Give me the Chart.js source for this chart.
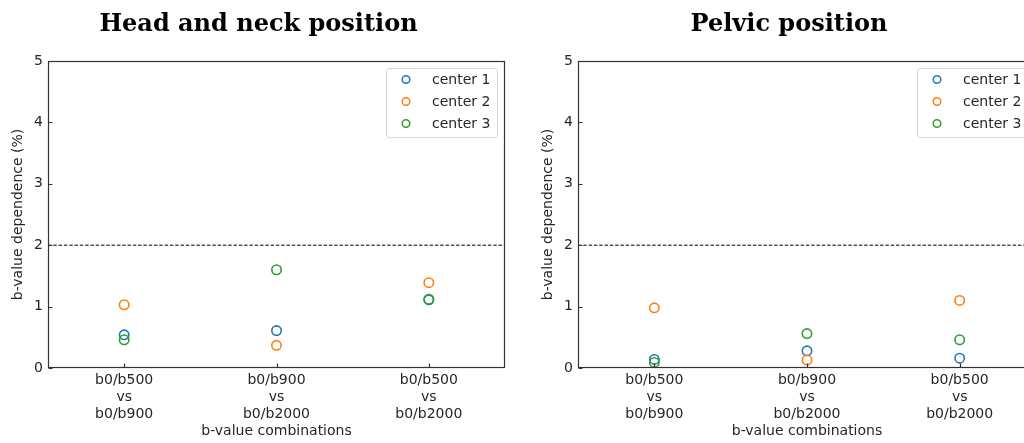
<!DOCTYPE html>
<html>
<head>
<meta charset="utf-8">
<script src="https://cdn.jsdelivr.net/npm/chart.js@4.4.1/dist/chart.umd.min.js"></script>
<style>
  html, body { margin: 0; padding: 0; background: #fff; overflow: hidden; width: 1024px; height: 443px; }
  .panel { position: absolute; top: 0; height: 443px; }
  #head-wrap { left: 0; width: 516px; }
  #pelvic-wrap { left: 530px; width: 518px; }
</style>
</head>
<body>
<div id="head-wrap" class="panel"><canvas id="head-chart" width="516" height="443"></canvas></div>
<div id="pelvic-wrap" class="panel"><canvas id="pelvic-chart" width="518" height="443"></canvas></div>
<script>
// b-value combinations (multi-line tick labels)
const combinations = [
    ['b0/b500', 'vs', 'b0/b900'],
    ['b0/b900', 'vs', 'b0/b2000'],
    ['b0/b500', 'vs', 'b0/b2000']
];
const centerNames = ['center 1', 'center 2', 'center 3'];
const centerColors = ['#1f77b4', '#ff7f0e', '#2ca02c'];
const yTicks = [0, 1, 2, 3, 4, 5];
const threshold = 2;

// b-value dependence (%) per center
const headCenter1 = [0.54, 0.61, 1.11];
const headCenter2 = [1.03, 0.37, 1.39];
const headCenter3 = [0.46, 1.60, 1.12];

const pelvicCenter1 = [0.14, 0.28, 0.16];
const pelvicCenter2 = [0.98, 0.13, 1.10];
const pelvicCenter3 = [0.09, 0.56, 0.46];

const textColor = '#262626';
const axisColor = '#333';
const sans = '"DejaVu Sans", sans-serif';
const X_MIN = -0.5, X_MAX = combinations.length - 0.5;

// box around the plot area plus inward tick marks
const frameTicks = {
    id: 'frameTicks',
    afterDatasetsDraw(chart) {
        const { ctx, chartArea: a, scales: { x, y } } = chart;
        const l = Math.round(a.left) + 0.5, r = Math.round(a.right) - 0.5;
        const t = Math.round(a.top) + 0.5, b = Math.round(a.bottom) - 0.5;
        ctx.save();
        ctx.strokeStyle = axisColor;
        ctx.lineWidth = 1.2;
        ctx.strokeRect(l, t, r - l, b - t);
        ctx.beginPath();
        x.ticks.forEach(tk => {
            const px = Math.round(x.getPixelForValue(tk.value)) + 0.5;
            ctx.moveTo(px, b); ctx.lineTo(px, b - 4);
        });
        y.ticks.forEach(tk => {
            const py = Math.round(y.getPixelForValue(tk.value)) + 0.5;
            ctx.moveTo(l, py); ctx.lineTo(l + 4, py);
        });
        ctx.stroke();
        ctx.restore();
    }
};

// framed legend in the upper right corner of the plot
const boxLegend = {
    id: 'boxLegend',
    afterDraw(chart) {
        const { ctx, chartArea: a } = chart;
        const items = chart.data.datasets.filter(d => d.type === 'scatter');
        const left = a.right - 119, top = a.top + 7, w = 111, h = 69;
        ctx.save();
        ctx.fillStyle = 'rgba(255,255,255,0.8)';
        ctx.strokeStyle = '#d6d6d6';
        ctx.lineWidth = 1;
        ctx.beginPath();
        ctx.roundRect(left + 0.5, top + 0.5, w, h, 3);
        ctx.fill();
        ctx.stroke();
        ctx.font = '14px ' + sans;
        ctx.textBaseline = 'middle';
        items.forEach((d, i) => {
            const cy = top + 11.5 + i * 22;
            ctx.beginPath();
            ctx.arc(left + 20, cy, 3.8, 0, Math.PI * 2);
            ctx.strokeStyle = d.borderColor;
            ctx.lineWidth = 1.5;
            ctx.stroke();
            ctx.fillStyle = textColor;
            ctx.fillText(d.label, left + 46, cy + 1);
        });
        ctx.restore();
    }
};

function buildChart(canvasId, titleText, series, padRight) {
    const datasets = series.map((vals, i) => ({
        type: 'scatter',
        label: centerNames[i],
        data: vals.map((v, k) => ({ x: k, y: v })),
        borderColor: centerColors[i],
        backgroundColor: 'rgba(0,0,0,0)',
        pointRadius: 4.7,
        pointBorderWidth: 1.6,
        order: series.length - i
    }));
    datasets.push({
        type: 'line',
        label: 'threshold',
        data: [{ x: X_MIN, y: threshold }, { x: X_MAX, y: threshold }],
        borderColor: '#000',
        borderWidth: 1,
        borderDash: [3.5, 1.8],
        pointRadius: 0,
        order: 10
    });

    return new Chart(document.getElementById(canvasId), {
        data: { datasets },
        options: {
            responsive: false,
            animation: false,
            devicePixelRatio: 1,
            layout: { padding: { left: 12, right: padRight, top: 0, bottom: 0 } },
            plugins: {
                legend: { display: false },
                tooltip: { enabled: false },
                title: {
                    display: true,
                    text: titleText,
                    color: '#000',
                    font: { family: '"DejaVu Serif", serif', size: 24, weight: 'bold' },
                    padding: { top: 10.5, bottom: 21.7 }
                }
            },
            scales: {
                x: {
                    type: 'linear',
                    min: X_MIN,
                    max: X_MAX,
                    afterBuildTicks: s => { s.ticks = combinations.map((_, i) => ({ value: i })); },
                    afterFit: s => { s.height = 75; },
                    ticks: {
                        callback: v => combinations[v],
                        color: textColor,
                        font: { family: sans, size: 14 },
                        padding: 4,
                        maxRotation: 0,
                        autoSkip: false
                    },
                    grid: { display: false, drawTicks: false },
                    border: { display: false },
                    title: {
                        display: true,
                        text: 'b-value combinations',
                        color: textColor,
                        font: { family: sans, size: 14 },
                        padding: { top: 0, bottom: 3 }
                    }
                },
                y: {
                    min: 0,
                    max: 5,
                    afterBuildTicks: s => { s.ticks = yTicks.map(v => ({ value: v })); },
                    afterFit: s => { s.width = 36; },
                    ticks: {
                        color: textColor,
                        font: { family: sans, size: 14 },
                        padding: 5
                    },
                    grid: { display: false, drawTicks: false },
                    border: { display: false },
                    title: {
                        display: true,
                        text: 'b-value dependence (%)',
                        color: textColor,
                        font: { family: sans, size: 14, lineHeight: 0.9 },
                        padding: { top: 0, bottom: 0 }
                    }
                }
            }
        },
        plugins: [frameTicks, boxLegend]
    });
}

buildChart('head-chart', 'Head and neck position', [headCenter1, headCenter2, headCenter3], 11);
buildChart('pelvic-chart', 'Pelvic position', [pelvicCenter1, pelvicCenter2, pelvicCenter3], 12);
</script>
</body>
</html>
